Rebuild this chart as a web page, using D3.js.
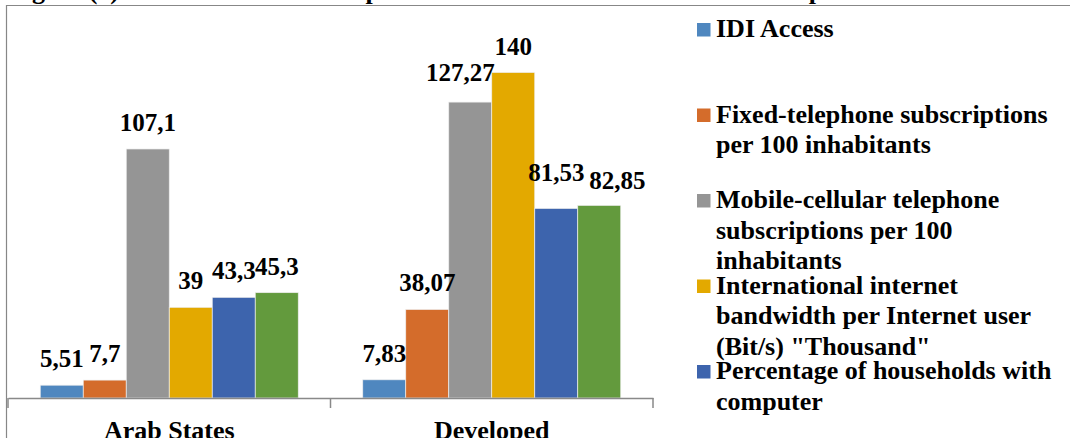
<!DOCTYPE html>
<html>
<head>
<meta charset="utf-8">
<script src="https://cdn.jsdelivr.net/npm/d3@7/dist/d3.min.js"></script>
<style>
  html, body { margin: 0; padding: 0; background: #ffffff; }
  svg { display: block; }
  text { font-family: "Liberation Serif", "Times New Roman", serif; font-weight: bold; fill: #000; }
</style>
</head>
<body>
<svg id="chart" width="1070" height="438"></svg>
<script>
// ---- data ----
const categories = ["Arab States", "Developed"];
const series = [
  "IDI Access",
  "Fixed-telephone subscriptions per 100 inhabitants",
  "Mobile-cellular telephone subscriptions per 100 inhabitants",
  "International internet bandwidth per Internet user (Bit/s) \"Thousand\"",
  "Percentage of households with computer",
  "Percentage of households with Internet access"
];
const arabStates = [5.51, 7.7, 107.1, 39, 43.3, 45.3];
const developed  = [7.83, 38.07, 127.27, 140, 81.53, 82.85];
const titleText = "Figure (x): The Arab States compared with the World in IDI Access components";

// ---- styling ----
const colors = ["#4F87BF", "#D46C2B", "#959595", "#E3A900", "#3D64AD", "#639A3D"];
// hand placement of a few crowded value labels: [dx, extra dy]
const labelNudge = [
  [[0, 0], [0, 0], [0, 0], [0, 0], [0, 0], [0, 0]],
  [[0, 0], [0, 0], [-10, -3], [0, 0], [0, -9], [18, 2]]
];

const rows = categories.map((c, i) => ({ category: c, values: i === 0 ? arabStates : developed }));

const svg = d3.select("#chart");

const plot = { left: 8, right: 653, baseline: 398, top: 26 };

const x0 = d3.scaleBand().domain(categories).range([plot.left, plot.right]).paddingInner(0).paddingOuter(0);
const x1 = d3.scaleBand().domain(d3.range(series.length)).range([0, x0.bandwidth()]).paddingInner(0).paddingOuter(0.75);
const y = d3.scaleLinear().domain([0, 160]).range([plot.baseline, plot.top]);

const fmt = d3.formatLocale({ decimal: ",", thousands: ".", grouping: [3], currency: ["", ""] }).format("~f");

// title (sits mostly above the visible area)
svg.append("text")
  .attr("x", 9).attr("y", -1)
  .style("font-size", "26px")
  .style("white-space", "pre")
  .text(titleText);

// chart frame
svg.append("line").attr("x1", 6).attr("x2", 1070).attr("y1", 5.5).attr("y2", 5.5)
  .attr("stroke", "#878787").attr("stroke-width", 1.2);
svg.append("line").attr("x1", 6.5).attr("x2", 6.5).attr("y1", 5).attr("y2", 438)
  .attr("stroke", "#878787").attr("stroke-width", 1.2);

// bars
const groups = svg.append("g").selectAll("g")
  .data(rows).join("g")
  .attr("transform", d => `translate(${x0(d.category)},0)`);

groups.selectAll("rect")
  .data(d => d.values.map((v, i) => ({ v, i })))
  .join("rect")
  .attr("x", d => x1(d.i))
  .attr("width", x1.bandwidth())
  .attr("y", d => y(d.v))
  .attr("height", d => y(0) - y(d.v))
  .attr("fill", d => colors[d.i])
  .attr("stroke", "#eeeeee")
  .attr("stroke-width", 0.7);

// value labels
groups.each(function (row, gi) {
  d3.select(this).selectAll("text.val")
    .data(row.values.map((v, i) => ({ v, i })))
    .join("text")
    .attr("class", "val")
    .attr("text-anchor", "middle")
    .attr("x", d => x1(d.i) + x1.bandwidth() / 2 + labelNudge[gi][d.i][0])
    .attr("y", d => y(d.v) - 18 + labelNudge[gi][d.i][1])
    .style("font-size", "25px")
    .text(d => fmt(d.v));
});

// category axis
const axis = d3.axisBottom(x0).tickSize(0).tickFormat("");
const axisG = svg.append("g").attr("transform", `translate(0,${plot.baseline})`).call(axis);
axisG.select(".domain").attr("stroke", "#898989").attr("stroke-width", 1.5);
const tickPos = categories.map(c => x0(c)).concat([plot.right]);
svg.append("g").selectAll("line").data(tickPos).join("line")
  .attr("x1", d => d).attr("x2", d => d)
  .attr("y1", plot.baseline).attr("y2", plot.baseline + 10)
  .attr("stroke", "#898989").attr("stroke-width", 1.5);

svg.append("g").selectAll("text").data(categories).join("text")
  .attr("x", d => x0(d) + x0.bandwidth() / 2)
  .attr("y", 439)
  .attr("text-anchor", "middle")
  .style("font-size", "26px")
  .text(d => d);

// legend
const legend = svg.append("g");
const legendX = 697, textX = 716, firstBase = 37, itemStep = 85.5, lineH = 30.7, wrapW = 352;
series.forEach((name, i) => {
  const base = firstBase + i * itemStep;
  legend.append("rect")
    .attr("x", legendX).attr("y", base - 14)
    .attr("width", 13.5).attr("height", 13.5)
    .attr("fill", colors[i]);
  const t = legend.append("text").attr("x", textX).attr("y", base).style("font-size", "26px");
  const words = name.split(" ");
  let line = [];
  let lineNo = 0;
  let tspan = t.append("tspan").attr("x", textX).attr("y", base);
  words.forEach(w => {
    line.push(w);
    tspan.text(line.join(" "));
    if (tspan.node().getComputedTextLength() > wrapW && line.length > 1) {
      line.pop();
      tspan.text(line.join(" "));
      line = [w];
      lineNo += 1;
      tspan = t.append("tspan").attr("x", textX).attr("y", base + lineNo * lineH).text(w);
    }
  });
});
</script>
</body>
</html>
